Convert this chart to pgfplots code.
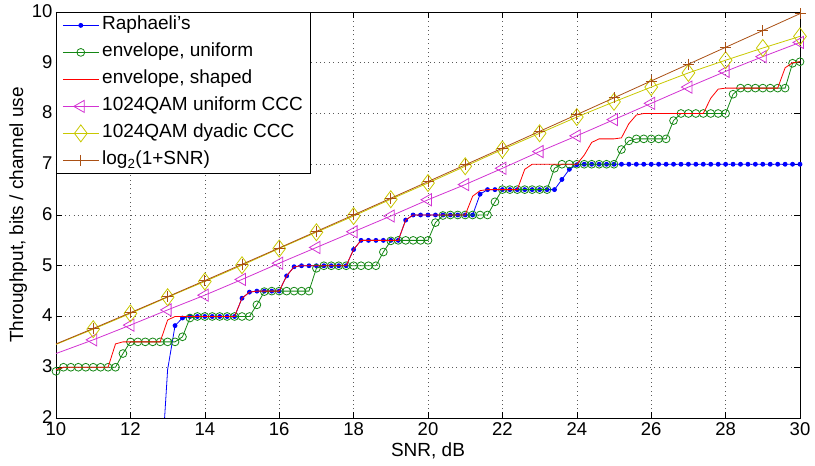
\documentclass[border=0pt]{standalone}
\usepackage{fontspec}
\setmainfont{Liberation Sans}
\usepackage{pgfplots}
\pgfplotsset{compat=1.18}
\definecolor{cblue}{RGB}{0,0,255}
\definecolor{cgreen}{RGB}{20,135,20}
\definecolor{cred}{RGB}{255,0,0}
\definecolor{cmag}{RGB}{210,50,210}
\definecolor{cyel}{RGB}{200,200,0}
\definecolor{cbrown}{RGB}{170,80,20}
\begin{document}
\begin{tikzpicture}
\begin{axis}[
  scale only axis,
  width=744pt, height=406pt,
  xmin=10, xmax=30, ymin=2, ymax=10,
  xtick={10,12,...,30}, ytick={2,3,...,10},
  tick align=inside, major tick length=6pt,
  tick style={black, line width=0.6pt},
  axis line style={black, line width=0.9pt},
  grid=major,
  major grid style={black!65, dash pattern=on 0.8pt off 3.6pt, line width=0.6pt},
  /pgf/number format/assume math mode=true,
  tick label style={font=\fontsize{18.5}{21}\selectfont},
  xticklabel style={yshift=-1.5pt},
  yticklabel style={yshift=1pt},
  label style={font=\fontsize{19}{22}\selectfont},
  xlabel={SNR, dB},
  ylabel={Throughput, bits / channel use},
  xlabel style={yshift=0pt},
  ylabel style={yshift=-2pt},
  clip mode=individual,
  legend cell align=left,
  legend style={at={(0,1)}, anchor=north west, draw=black, line width=0.8pt,
    font=\fontsize{19}{22}\selectfont, inner xsep=6pt, inner ysep=2.5pt,
    row sep=6pt, column sep=1pt,
    nodes={inner sep=2pt, text height=13pt, text depth=4pt}},
  legend image code/.code={\draw[#1, mark repeat=2, mark phase=2] plot coordinates {(0pt,0pt) (18pt,0pt) (36pt,0pt)};},
  every axis plot/.append style={line width=0.8pt},
]
% Raphaeli's
\addplot[color=cblue, mark=*, mark size=2pt, mark repeat=1, mark phase=2, mark options={solid}] coordinates {
(12.8,0.6) (13.0,2.95) (13.2,3.82) (13.4,3.97) (13.6,4) (13.8,4) (14.0,4) (14.2,4) (14.4,4) (14.6,4) (14.8,4)
(15.0,4.36) (15.2,4.48) (15.4,4.5) (15.6,4.5) (15.8,4.5) (16.0,4.5) (16.2,4.8) (16.4,4.98)
(16.6,5) (16.8,5) (17.0,5) (17.2,5) (17.4,5) (17.6,5) (17.8,5) (18.0,5.32)
(18.2,5.5) (18.4,5.5) (18.6,5.5) (18.8,5.5) (19.0,5.5) (19.2,5.5) (19.4,5.9)
(19.6,6) (19.8,6) (20.0,6) (20.2,6) (20.4,6) (20.6,6) (20.8,6) (21.0,6) (21.2,6) (21.4,6.41)
(21.6,6.5) (21.8,6.5) (22.0,6.5) (22.2,6.5) (22.4,6.5) (22.6,6.5) (22.8,6.5) (23.0,6.5) (23.2,6.5) (23.4,6.5)
(23.6,6.7) (23.8,6.9) (24.0,6.99)
(24.2,7) (24.4,7) (24.6,7) (24.8,7) (25.0,7) (25.2,7) (25.4,7) (25.6,7) (25.8,7) (26.0,7)
(26.2,7) (26.4,7) (26.6,7) (26.8,7) (27.0,7) (27.2,7) (27.4,7) (27.6,7) (27.8,7) (28.0,7)
(28.2,7) (28.4,7) (28.6,7) (28.8,7) (29.0,7) (29.2,7) (29.4,7) (29.6,7) (29.8,7) (30.0,7)
};
\addlegendentry{Raphaeli’s}
% envelope, uniform
\addplot[color=cgreen, mark=o, mark size=3.9pt, mark options={solid}] coordinates {
(10.0,2.92) (10.2,3) (10.4,3) (10.6,3) (10.8,3) (11.0,3) (11.2,3) (11.4,3) (11.6,3) (11.8,3.27)
(12.0,3.5) (12.2,3.5) (12.4,3.5) (12.6,3.5) (12.8,3.5) (13.0,3.5) (13.2,3.5) (13.4,3.6) (13.6,3.97)
(13.8,4) (14.0,4) (14.2,4) (14.4,4) (14.6,4) (14.8,4) (15.0,4) (15.2,4) (15.4,4.23) (15.6,4.49)
(15.8,4.5) (16.0,4.5) (16.2,4.5) (16.4,4.5) (16.6,4.5) (16.8,4.5) (17.0,4.95)
(17.2,5) (17.4,5) (17.6,5) (17.8,5) (18.0,5) (18.2,5) (18.4,5) (18.6,5) (18.8,5.27) (19.0,5.49)
(19.2,5.5) (19.4,5.5) (19.6,5.5) (19.8,5.5) (20.0,5.5) (20.2,5.85) (20.4,5.99)
(20.6,6) (20.8,6) (21.0,6) (21.2,6) (21.4,6) (21.6,6) (21.8,6.26) (22.0,6.5)
(22.2,6.5) (22.4,6.5) (22.6,6.5) (22.8,6.5) (23.0,6.5) (23.2,6.5) (23.4,6.92) (23.6,7)
(23.8,7) (24.0,7) (24.2,7) (24.4,7) (24.6,7) (24.8,7) (25.0,7) (25.2,7.29) (25.4,7.46)
(25.6,7.5) (25.8,7.5) (26.0,7.5) (26.2,7.5) (26.4,7.5) (26.6,7.86) (26.8,8)
(27.0,8) (27.2,8) (27.4,8) (27.6,8) (27.8,8) (28.0,8) (28.2,8.38) (28.4,8.5)
(28.6,8.5) (28.8,8.5) (29.0,8.5) (29.2,8.5) (29.4,8.5) (29.6,8.5) (29.8,8.99) (30.0,9.02)
};
\addlegendentry{envelope, uniform}
% envelope, shaped
\addplot[color=cred, no marks] coordinates {
(10.0,2.95) (10.2,3) (10.4,3) (10.6,3) (10.8,3) (11.0,3) (11.2,3) (11.4,3) (11.6,3.46)
(11.8,3.5) (12.0,3.5) (12.2,3.5) (12.4,3.5) (12.6,3.5) (12.8,3.5) (13.0,3.93)
(13.2,4) (13.4,4) (13.6,4) (13.8,4) (14.0,4) (14.2,4) (14.4,4) (14.6,4) (14.8,4) (15.0,4.36) (15.2,4.48)
(15.4,4.5) (15.6,4.5) (15.8,4.5) (16.0,4.5) (16.2,4.8) (16.4,4.98)
(16.6,5) (16.8,5) (17.0,5) (17.2,5) (17.4,5) (17.6,5) (17.8,5) (18.0,5.32)
(18.2,5.5) (18.4,5.5) (18.6,5.5) (18.8,5.5) (19.0,5.5) (19.2,5.5) (19.4,5.9)
(19.6,6) (19.8,6) (20.0,6) (20.2,6) (20.4,6) (20.6,6) (20.8,6) (21.0,6) (21.2,6.37) (21.4,6.48)
(21.6,6.5) (21.8,6.5) (22.0,6.5) (22.2,6.5) (22.4,6.5) (22.6,6.9)
(22.8,7) (23.0,7) (23.2,7) (23.4,7) (23.6,7) (23.8,7) (24.0,7) (24.2,7.18) (24.4,7.43)
(24.6,7.5) (24.8,7.5) (25.0,7.5) (25.2,7.52) (25.4,7.8) (25.6,7.97)
(25.8,8) (26.0,8) (26.2,8) (26.4,8) (26.6,8) (26.8,8) (27.0,8) (27.2,8) (27.4,8) (27.6,8.3) (27.8,8.48)
(28.0,8.5) (28.2,8.5) (28.4,8.5) (28.6,8.5) (28.8,8.5) (29.0,8.5) (29.2,8.5) (29.4,8.5) (29.6,8.9)
(29.8,9.0) (30.0,9.02)
};
\addlegendentry{envelope, shaped}
% 1024QAM uniform CCC
\addplot[color=cmag, mark=triangle, mark size=7pt, mark repeat=1, mark phase=2, mark options={solid, rotate=90}] coordinates {
(10,3.27) (11,3.54) (12,3.83) (13,4.13) (14,4.42) (15,4.73) (16,5.05) (17,5.36) (18,5.67) (19,5.98)
(20,6.30) (21,6.60) (22,6.92) (23,7.25) (24,7.56) (25,7.88) (26,8.20) (27,8.52) (28,8.83) (29,9.12) (30,9.40)
};
\addlegendentry{1024QAM uniform CCC}
% 1024QAM dyadic CCC
\addplot[color=cyel, mark=diamond, mark size=8.5pt, mark repeat=1, mark phase=2, mark options={solid}] coordinates {
(10,3.45) (11,3.75) (12,4.06) (13,4.38) (14,4.69) (15,5.01) (16,5.34) (17,5.66) (18,5.98) (19,6.31)
(20,6.63) (21,6.96) (22,7.29) (23,7.61) (24,7.93) (25,8.23) (26,8.52) (27,8.80) (28,9.05) (29,9.29) (30,9.52)
};
\addlegendentry{1024QAM dyadic CCC}
% log2(1+SNR)
\addplot[color=cbrown, mark=+, mark size=5.5pt, mark repeat=1, mark phase=2, mark options={solid}] coordinates {
(10,3.459) (11,3.764) (12,4.075) (13,4.389) (14,4.707) (15,5.028) (16,5.351) (17,5.676) (18,6.002) (19,6.330)
(20,6.658) (21,6.988) (22,7.317) (23,7.648) (24,7.978) (25,8.309) (26,8.641) (27,8.972) (28,9.304) (29,9.635) (30,9.967)
};
\addlegendentry{log\textsubscript{2}(1+SNR)}
\coordinate (SW) at (rel axis cs:0,0);
\coordinate (NE) at (rel axis cs:1,1);
\end{axis}
\pgfresetboundingbox
\useasboundingbox ([shift={(-56pt,-48pt)}]SW) rectangle ([shift={(15pt,12pt)}]NE);
\end{tikzpicture}
\end{document}
